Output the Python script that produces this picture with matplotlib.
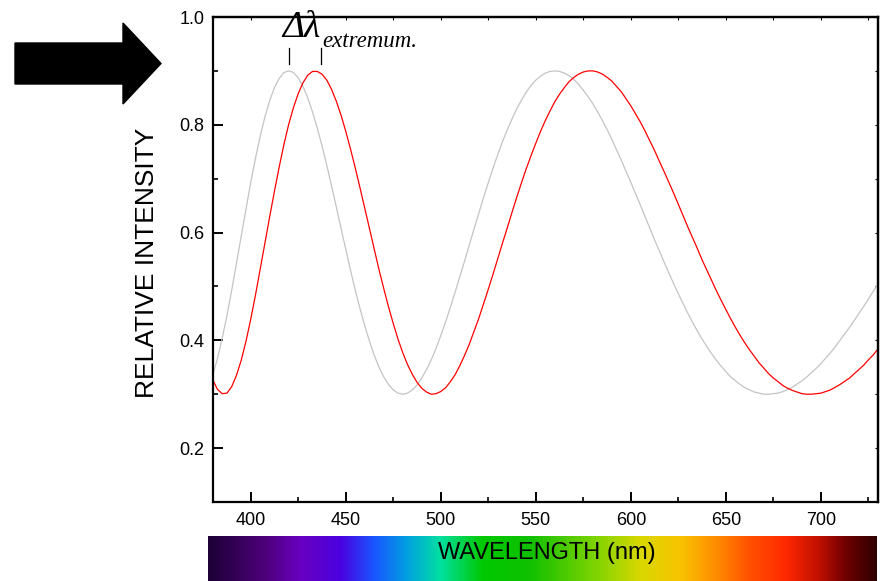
import numpy as np
import matplotlib
matplotlib.use("Agg")
import matplotlib.pyplot as plt
from matplotlib.colors import LinearSegmentedColormap
from matplotlib.patches import Polygon
from matplotlib.ticker import MultipleLocator

plt.rcParams['font.family'] = ['Liberation Sans', 'DejaVu Sans']

# Wavelength grid (nm), 2.5 nm steps from 380 to 730
wavelength = np.arange(380, 730.01, 2.5)

# Reference fringe pattern (grey), one row per 25 nm
intensity_ref = [
    0.336, 0.366, 0.404, 0.446, 0.493, 0.543, 0.594, 0.644, 0.693, 0.738,
    0.779, 0.815, 0.845, 0.869, 0.886, 0.897, 0.900, 0.897, 0.887, 0.871,
    0.850, 0.824, 0.794, 0.761, 0.725, 0.687, 0.648, 0.608, 0.569, 0.530,
    0.493, 0.459, 0.427, 0.398, 0.372, 0.350, 0.332, 0.318, 0.308, 0.302,
    0.300, 0.302, 0.308, 0.317, 0.330, 0.346, 0.364, 0.385, 0.409, 0.434,
    0.461, 0.489, 0.518, 0.547, 0.577, 0.607, 0.636, 0.665, 0.693, 0.720,
    0.745, 0.769, 0.791, 0.811, 0.830, 0.846, 0.861, 0.873, 0.883, 0.890,
    0.896, 0.899, 0.900, 0.899, 0.896, 0.891, 0.884, 0.875, 0.864, 0.852,
    0.839, 0.824, 0.808, 0.791, 0.773, 0.753, 0.734, 0.713, 0.693, 0.672,
    0.651, 0.629, 0.608, 0.586, 0.566, 0.545, 0.525, 0.505, 0.486, 0.468,
    0.450, 0.433, 0.417, 0.402, 0.388, 0.375, 0.363, 0.352, 0.342, 0.332,
    0.325, 0.318, 0.312, 0.308, 0.304, 0.302, 0.300, 0.300, 0.301, 0.302,
    0.305, 0.309, 0.313, 0.319, 0.325, 0.332, 0.340, 0.348, 0.357, 0.367,
    0.377, 0.388, 0.400, 0.412, 0.424, 0.437, 0.450, 0.463, 0.477, 0.491,
    0.505,
]

# Shifted fringe pattern (red), one row per 25 nm
intensity_shift = [
    0.327, 0.309, 0.301, 0.302, 0.314, 0.335, 0.363, 0.398, 0.439, 0.484,
    0.532, 0.581, 0.630, 0.677, 0.722, 0.764, 0.801, 0.832, 0.858, 0.878,
    0.892, 0.899, 0.899, 0.894, 0.883, 0.866, 0.844, 0.818, 0.788, 0.755,
    0.720, 0.683, 0.645, 0.607, 0.569, 0.531, 0.496, 0.462, 0.431, 0.402,
    0.377, 0.355, 0.337, 0.322, 0.311, 0.304, 0.300, 0.301, 0.305, 0.312,
    0.323, 0.336, 0.353, 0.372, 0.393, 0.417, 0.441, 0.468, 0.495, 0.523,
    0.552, 0.581, 0.609, 0.638, 0.666, 0.693, 0.719, 0.743, 0.766, 0.788,
    0.808, 0.826, 0.843, 0.857, 0.869, 0.880, 0.888, 0.894, 0.898, 0.900,
    0.900, 0.898, 0.894, 0.888, 0.881, 0.871, 0.861, 0.848, 0.835, 0.820,
    0.805, 0.788, 0.770, 0.752, 0.732, 0.713, 0.693, 0.673, 0.652, 0.631,
    0.610, 0.590, 0.570, 0.549, 0.530, 0.511, 0.492, 0.474, 0.457, 0.440,
    0.424, 0.409, 0.395, 0.382, 0.370, 0.358, 0.348, 0.338, 0.330, 0.323,
    0.316, 0.311, 0.307, 0.304, 0.301, 0.300, 0.300, 0.301, 0.302, 0.305,
    0.308, 0.313, 0.318, 0.324, 0.330, 0.338, 0.346, 0.354, 0.364, 0.373,
    0.384,
]

# Peak positions marked by the Δλ annotation
peak_marks = [420, 437]

# Visible spectrum colour stops (fraction along bar, colour)
spectrum_stops = [
    (0.000, '#1e0036'), (0.088, '#50007f'), (0.137, '#6800c0'),
    (0.197, '#4a00e0'), (0.247, '#1a55ff'), (0.297, '#00a0e0'),
    (0.347, '#00e0a0'), (0.411, '#00c800'), (0.481, '#10c000'),
    (0.581, '#80d400'), (0.646, '#d8d800'), (0.706, '#f8c400'),
    (0.761, '#ff8c00'), (0.806, '#ff5500'), (0.865, '#ff2800'),
    (0.915, '#c01000'), (0.955, '#700000'), (1.000, '#300000'),
]

W, H = 883, 581
fig = plt.figure(figsize=(W / 100, H / 100), dpi=100)

ax = fig.add_axes([212.7 / W, 1 - 502 / H, (878 - 212.7) / W, (502 - 17) / H])
ax.plot(wavelength, intensity_ref, color='#c4c4c4', lw=0.9,
        solid_joinstyle='round')
ax.plot(wavelength, intensity_shift, color='#ff0000', lw=0.9,
        solid_joinstyle='round')

ax.set_xlim(380, 730)
ax.set_ylim(0.1, 1.0)
ax.xaxis.set_major_locator(MultipleLocator(50))
ax.xaxis.set_minor_locator(MultipleLocator(25))
ax.yaxis.set_minor_locator(MultipleLocator(0.1))
ax.set_yticks([0.2, 0.4, 0.6, 0.8, 1.0])
ax.set_yticklabels(['0.2', '0.4', '0.6', '0.8', '1.0'])

for s in ax.spines.values():
    s.set_linewidth(1.6)

ax.tick_params(which='both', direction='in', labelsize=13, top=False, right=False)
ax.tick_params(which='major', length=7, width=1.4)
ax.tick_params(which='minor', length=3.8, width=1.2)
ax.tick_params(axis='x', pad=7.5)
ax.tick_params(axis='y', pad=6)

# short ticks on top and right frame edges
top = ax.secondary_xaxis('top')
top.xaxis.set_major_locator(MultipleLocator(50))
top.xaxis.set_minor_locator(MultipleLocator(25))
top.tick_params(which='both', direction='in', length=2.5, width=0.8, labeltop=False)
top.spines['top'].set_linewidth(1.6)
right = ax.secondary_yaxis('right')
right.yaxis.set_major_locator(MultipleLocator(0.2))
right.yaxis.set_minor_locator(MultipleLocator(0.1))
right.tick_params(which='both', direction='in', length=2.5, width=0.8, labelright=False)
right.spines['right'].set_linewidth(1.6)

# Δλ annotation with peak marks
for xm in peak_marks:
    ax.plot([xm, xm], [0.913, 0.943], color='black', lw=0.9, clip_on=False)
ax.text(416.4, 0.963, 'Δλ', family=['Liberation Serif', 'DejaVu Serif'],
        style='italic', fontsize=27, ha='left', va='baseline')
ax.text(437.9, 0.944, 'extremum.', family=['Liberation Serif', 'DejaVu Serif'],
        style='italic', fontsize=16.5, ha='left', va='baseline')

fig.text(147 / W, 1 - 263 / H, 'RELATIVE INTENSITY', rotation=90,
         fontsize=19, ha='center', va='center')

# Spectrum bar under the axis
cax = fig.add_axes([208 / W, 0, 669 / W, 45 / H])
cmap = LinearSegmentedColormap.from_list('spectrum', spectrum_stops)
cax.imshow(np.linspace(0, 1, 512)[None, :], cmap=cmap, aspect='auto',
           extent=[0, 1, 0, 1])
cax.set_axis_off()
fig.text(547 / W, 1 - 553 / H, 'WAVELENGTH (nm)', fontsize=17,
         ha='center', va='center')

# Block arrow pointing at the chart
arrow_px = [(15, 43), (123, 43), (123, 23), (161, 63.5), (123, 104),
            (123, 84), (15, 84)]
arrow = Polygon([(x / W, 1 - y / H) for x, y in arrow_px], closed=True,
                facecolor='black', edgecolor='black', transform=fig.transFigure)
fig.patches.append(arrow)

fig.savefig('out.png', dpi=100)
